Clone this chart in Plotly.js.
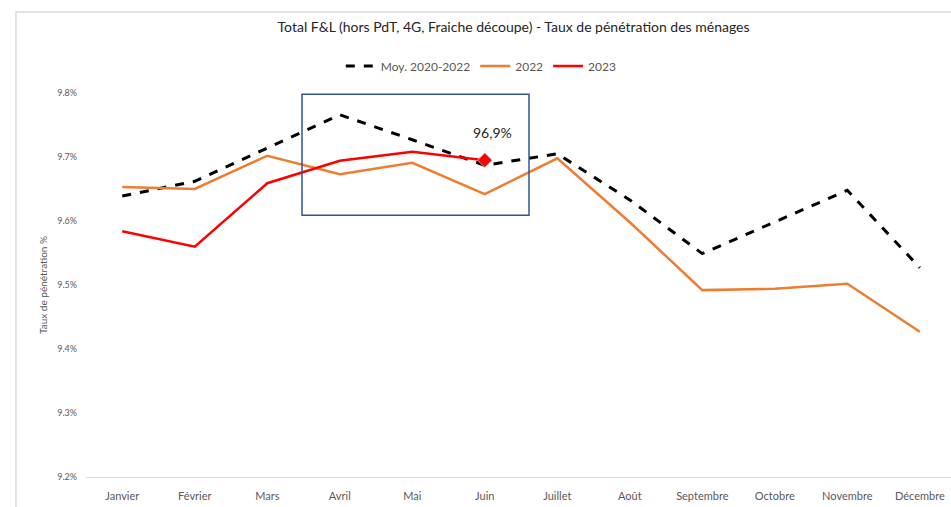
<!DOCTYPE html>
<html>
<head>
<meta charset="utf-8">
<script src="https://cdn.plot.ly/plotly-3.0.1.min.js"></script>
<style>html,body{margin:0;padding:0;background:#fff;}#chart{width:951px;height:507px;}</style>
</head>
<body>
<div id="chart"></div>
<script>
const months = ["Janvier","Février","Mars","Avril","Mai","Juin","Juillet","Août","Septembre","Octobre","Novembre","Décembre"];
const moy2020_2022 = [96.39, 96.62, 97.14, 97.66, 97.27, 96.87, 97.05, 96.33, 95.49, 95.98, 96.48, 95.27];
const s2022 = [96.53, 96.50, 97.02, 96.73, 96.91, 96.42, 96.98, 95.98, 94.92, 94.94, 95.02, 94.27];
const s2023 = [95.84, 95.60, 96.59, 96.94, 97.08, 96.95];
const yTickVals = [92, 93, 94, 95, 96, 97, 98];
const yTickText = ["9.2%", "9.3%", "9.4%", "9.5%", "9.6%", "9.7%", "9.8%"];
const lastLabel = "96,9%";

const font = "Lato, 'Open Sans', sans-serif";
const traces = [
  {x: months, y: moy2020_2022, name: "Moy. 2020-2022", mode: "lines",
   line: {color: "#000000", width: 3, dash: "dash"}},
  {x: months, y: s2022, name: "2022", mode: "lines",
   line: {color: "#ED7D31", width: 2.5}},
  {x: months.slice(0, s2023.length), y: s2023, name: "2023", mode: "lines",
   line: {color: "#FF0000", width: 2.5}},
  {x: [months[s2023.length - 1]], y: [s2023[s2023.length - 1]], mode: "markers", showlegend: false,
   marker: {symbol: "diamond", size: 11, color: "#FF0000", line: {color: "#A6A6A6", width: 1}}}
];
const layout = {
  width: 951, height: 507,
  margin: {l: 86, r: 0, t: 93, b: 30},
  paper_bgcolor: "#ffffff", plot_bgcolor: "#ffffff",
  font: {family: font, color: "#595959"},
  title: {text: "Total F&L (hors PdT, 4G, Fraiche découpe) - Taux de pénétration des ménages",
          x: 0.54, xanchor: "center", y: 0.947, yanchor: "middle",
          font: {size: 14, color: "#262626", family: font}},
  showlegend: true,
  legend: {orientation: "h", x: 0.457, xanchor: "center", y: 1.07, yanchor: "middle",
           font: {size: 12, color: "#595959"}, traceorder: "normal", itemwidth: 30},
  xaxis: {type: "category", range: [-0.5, 11.43], showgrid: false, zeroline: false,
          showline: true, linecolor: "#D9D9D9", linewidth: 1, ticks: "", ticklabelstandoff: 9,
          tickfont: {size: 11, color: "#595959"}, fixedrange: true},
  yaxis: {range: [92, 98], tickvals: yTickVals, ticktext: yTickText, showgrid: false,
          zeroline: false, showline: false, ticks: "", ticklabelstandoff: 8,
          tickfont: {size: 9, color: "#595959"},
          title: {text: "Taux de pénétration %", standoff: 7, font: {size: 10, color: "#595959"}}},
  shapes: [
    {type: "rect", xref: "x", yref: "y", x0: 2.479, x1: 5.61, y0: 96.09, y1: 97.98,
     line: {color: "#2F5597", width: 1.5}, fillcolor: "rgba(0,0,0,0)"},
    {type: "rect", xref: "paper", yref: "paper", x0: -0.081, x1: 1.2, y0: -0.2, y1: 1.211,
     line: {color: "#D9D9D9", width: 1.5}, fillcolor: "rgba(0,0,0,0)"}
  ],
  annotations: [
    {xref: "x", yref: "y", x: months[s2023.length - 1], y: s2023[s2023.length - 1],
     text: lastLabel, showarrow: false, xshift: 8, yshift: 28,
     font: {size: 14, color: "#262626", family: font}}
  ]
};
Plotly.newPlot("chart", traces, layout, {displayModeBar: false, staticPlot: true});
</script>
</body>
</html>
